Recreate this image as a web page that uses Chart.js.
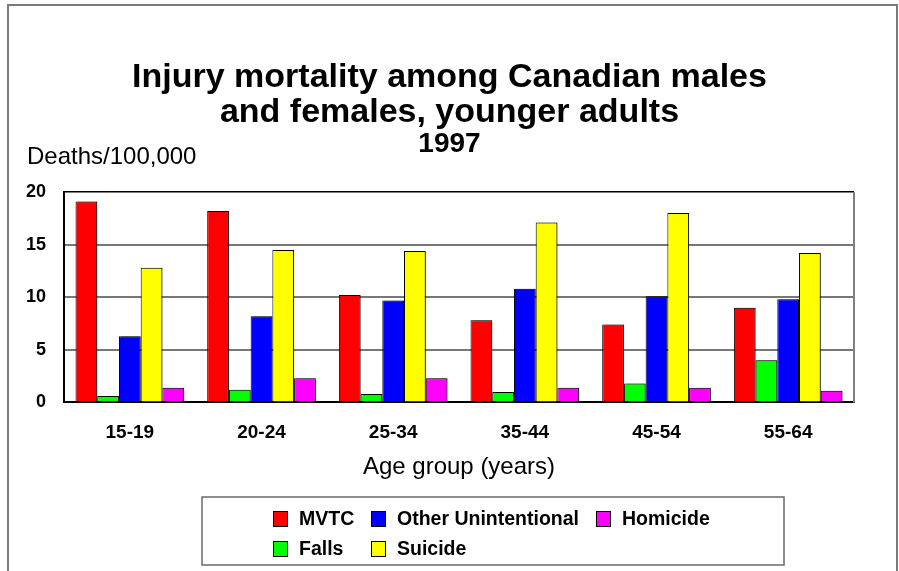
<!DOCTYPE html>
<html>
<head>
<meta charset="utf-8">
<style>
  html, body { margin: 0; padding: 0; background: #fff; }
  #wrap { width: 899px; height: 571px; }
</style>
<script src="https://cdn.jsdelivr.net/npm/chart.js@4"></script>
</head>
<body>
<div id="wrap"><canvas id="chart" width="899" height="571"></canvas></div>
<script>
const ageGroups = ["15-19", "20-24", "25-34", "35-44", "45-54", "55-64"];
const mvtc = [19.1, 18.2, 10.2, 7.8, 7.4, 9.0];
const falls = [0.6, 1.2, 0.8, 1.0, 1.8, 4.0];
const otherUnintentional = [6.3, 8.2, 9.7, 10.8, 10.1, 9.8];
const suicide = [12.8, 14.5, 14.4, 17.1, 18.0, 14.2];
const homicide = [1.4, 2.3, 2.3, 1.4, 1.4, 1.1];
const yTicks = [0, 5, 10, 15, 20];

const FONT = "'Liberation Sans', Arial, sans-serif";

// frame round the whole picture, right edge of the plot, bar shadow, legend
const decorations = {
    id: "decorations",
    beforeDatasetsDraw(chart) {
        const ctx = chart.ctx;
        ctx.save();
        ctx.shadowColor = "rgba(0,0,0,0.35)";
        ctx.shadowOffsetX = 2;
        ctx.shadowOffsetY = 0;
        ctx.shadowBlur = 0;
    },
    afterDatasetsDraw(chart) {
        chart.ctx.restore();
    },
    afterDraw(chart) {
        const ctx = chart.ctx;
        const area = chart.chartArea;
        ctx.save();

        // right border of plot
        ctx.strokeStyle = "#808080";
        ctx.lineWidth = 2;
        ctx.beginPath();
        ctx.moveTo(area.right, area.top);
        ctx.lineTo(area.right, area.bottom);
        ctx.stroke();

        // outer frame
        ctx.strokeStyle = "#7a7a7a";
        ctx.lineWidth = 2;
        ctx.beginPath();
        ctx.moveTo(8, 571);
        ctx.lineTo(8, 5);
        ctx.lineTo(897, 5);
        ctx.lineTo(897, 571);
        ctx.stroke();

        // y axis caption
        ctx.fillStyle = "#000";
        ctx.font = "24px " + FONT;
        ctx.textAlign = "left";
        ctx.textBaseline = "middle";
        ctx.fillText("Deaths/100,000", 27, 157);

        // legend
        const box = { left: 202, top: 497, right: 784, bottom: 565 };
        ctx.fillStyle = "#fff";
        ctx.fillRect(box.left, box.top, box.right - box.left, box.bottom - box.top);
        ctx.strokeStyle = "#6a6a6a";
        ctx.lineWidth = 1.5;
        ctx.strokeRect(box.left, box.top, box.right - box.left, box.bottom - box.top);

        const cols = [273, 371, 596];
        const rows = [519, 549];
        // items fill columns top to bottom
        const ds = chart.data.datasets;
        ctx.font = "bold 19.5px " + FONT;
        ds.forEach((d, i) => {
            const col = Math.floor(i / 2);
            const row = i % 2;
            const x = cols[col];
            const y = rows[row];
            ctx.fillStyle = d.backgroundColor;
            ctx.fillRect(x, y - 8, 15, 16);
            ctx.strokeStyle = "#000";
            ctx.lineWidth = 1;
            ctx.strokeRect(x + 0.5, y - 7.5, 14, 15);
            ctx.fillStyle = "#000";
            ctx.fillText(d.label, x + 26, y + 1);
        });
        ctx.restore();
    }
};

const ctx = document.getElementById("chart").getContext("2d");

new Chart(ctx, {
    type: "bar",
    data: {
        labels: ageGroups,
        datasets: [
            { label: "MVTC", data: mvtc, backgroundColor: "#ff0000" },
            { label: "Falls", data: falls, backgroundColor: "#00ff00" },
            { label: "Other Unintentional", data: otherUnintentional, backgroundColor: "#0000ff" },
            { label: "Suicide", data: suicide, backgroundColor: "#ffff00" },
            { label: "Homicide", data: homicide, backgroundColor: "#ff00ff" }
        ]
    },
    options: {
        responsive: false,
        animation: false,
        layout: { padding: { top: 0, left: 0, right: 0, bottom: 89 } },
        datasets: {
            bar: {
                borderColor: "#000",
                borderWidth: 1,
                categoryPercentage: 0.825,
                barPercentage: 1.0
            }
        },
        plugins: {
            legend: { display: false },
            tooltip: { enabled: false },
            title: {
                display: true,
                text: ["Injury mortality among Canadian males", "and females, younger adults"],
                color: "#000",
                font: { family: FONT, size: 34, weight: "bold", lineHeight: 1.03 },
                padding: { top: 60, bottom: 0 }
            },
            subtitle: {
                display: true,
                text: "1997",
                color: "#000",
                font: { family: FONT, size: 28, weight: "bold", lineHeight: 1.0 },
                padding: { top: 0, bottom: 34 }
            }
        },
        scales: {
            x: {
                grid: { display: false, drawTicks: false },
                border: { display: true, color: "#000", width: 2 },
                ticks: {
                    color: "#000",
                    padding: 19,
                    font: { family: FONT, size: 19, weight: "bold" }
                },
                title: {
                    display: true,
                    text: "Age group (years)",
                    color: "#000",
                    font: { family: FONT, size: 24 },
                    padding: { top: -10, bottom: 0 }
                }
            },
            y: {
                min: 0,
                max: 20,
                afterBuildTicks(scale) {
                    scale.ticks = yTicks.map(v => ({ value: v }));
                },
                afterFit(scale) {
                    scale.width = 64;
                },
                grid: {
                    drawTicks: false,
                    color: c => (c.tick.value === 20 ? "#000" : "#777"),
                    lineWidth: c => (c.tick.value === 20 ? 1.5 : 2)
                },
                border: { display: true, color: "#000", width: 2 },
                ticks: {
                    color: "#000",
                    padding: 18,
                    font: { family: FONT, size: 18, weight: "bold" }
                }
            },
            spacer: {
                type: "linear",
                position: "right",
                display: true,
                grid: { display: false, drawTicks: false },
                border: { display: false },
                ticks: { display: false },
                afterFit(scale) {
                    scale.width = 45;
                }
            }
        }
    },
    plugins: [decorations]
});
</script>
</body>
</html>
